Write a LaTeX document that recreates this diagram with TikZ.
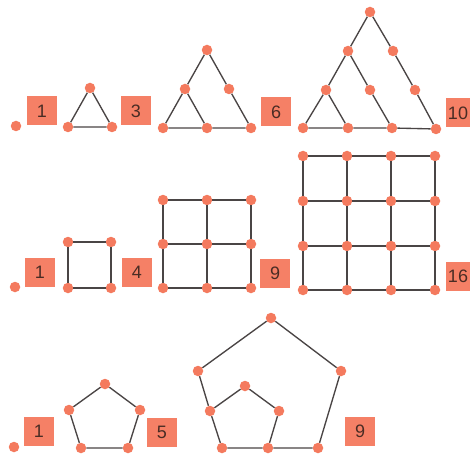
\documentclass[tikz,border=0pt]{standalone}
\usepackage{fontspec}
\setmainfont{Liberation Sans}
\definecolor{dotc}{HTML}{F47A5E}
\definecolor{boxc}{HTML}{F58066}
\definecolor{txtc}{HTML}{4A2C24}
\definecolor{linec}{HTML}{4A4545}
\begin{document}
\begin{tikzpicture}[x=1pt,y=-1pt,
  dot/.style={circle,fill=dotc,inner sep=0pt,minimum size=10.5pt},
  numbox/.style={fill=boxc,minimum width=30pt,minimum height=29pt,inner sep=0pt,
     font=\fontsize{18}{18}\selectfont,text=txtc},
  edge/.style={draw=linec,line width=1.35pt}]
\useasboundingbox (0,0) rectangle (470,454);
\fill[white] (0,0) rectangle (470,454);

% ---------- Row 1: triangles ----------
\node[dot] (d1) at (16,126) {};
\node[numbox] (n1a) at (42,111) {1};
\node[dot] (t3a) at (90,88) {};
\node[dot] (t3b) at (68,127) {};
\node[dot] (t3c) at (112,127) {};
\draw[edge] (t3a) -- (t3b) -- (t3c) -- (t3a);
\node[numbox] (n3) at (136,111) {3};

\node[dot] (t6a) at (207,50) {};
\node[dot] (t6b) at (185,89) {};
\node[dot] (t6c) at (229,89) {};
\node[dot] (t6d) at (163,128) {};
\node[dot] (t6e) at (207,128) {};
\node[dot] (t6f) at (251,128) {};
\draw[edge] (t6a) -- (t6b) -- (t6d) -- (t6e) -- (t6f) -- (t6c) -- (t6a);
\draw[edge] (t6b) -- (t6e);
\node[numbox] (n6) at (276,112) {6};

\node[dot] (ta) at (370,12) {};
\node[dot] (tb) at (348,51) {};
\node[dot] (tc) at (393,51) {};
\node[dot] (td) at (326,90) {};
\node[dot] (te) at (370,90) {};
\node[dot] (tf) at (415,90) {};
\node[dot] (tg) at (303,128) {};
\node[dot] (th) at (348,128) {};
\node[dot] (ti) at (392,128) {};
\node[dot] (tj) at (436,129) {};
\draw[edge] (ta) -- (tb) -- (td) -- (tg) -- (th) -- (ti) -- (tj) -- (tf) -- (tc) -- (ta);
\draw[edge] (tb) -- (te) -- (ti);
\draw[edge] (td) -- (th);
\node[numbox,minimum width=24pt] (n10) at (458,113) {10};

% ---------- Row 2: squares ----------
\node[dot] (d2) at (15,287) {};
\node[numbox] (n1b) at (40,272) {1};
\node[dot] (s1) at (68,242) {};
\node[dot] (s2) at (111,242) {};
\node[dot] (s3) at (111,288) {};
\node[dot] (s4) at (68,288) {};
\draw[edge] (s1) -- (s2) -- (s3) -- (s4) -- (s1);
\node[numbox] (n4) at (137,272) {4};

\foreach \i/\x in {1/163,2/207,3/251}
  \foreach \j/\y in {1/200,2/244,3/288}
    \node[dot] (g\i\j) at (\x,\y) {};
\foreach \j in {1,2,3} {
  \draw[edge] (g1\j) -- (g2\j) -- (g3\j);
  \draw[edge] (g\j1) -- (g\j2) -- (g\j3);
}
\node[numbox] (n9a) at (275,273) {9};

\foreach \i/\x in {1/303,2/347,3/391,4/435}
  \foreach \j/\y in {1/156,2/201,3/246,4/290}
    \node[dot] (h\i\j) at (\x,\y) {};
\foreach \j in {1,2,3,4} {
  \draw[edge] (h1\j) -- (h2\j) -- (h3\j) -- (h4\j);
  \draw[edge] (h\j1) -- (h\j2) -- (h\j3) -- (h\j4);
}
\node[numbox,minimum width=24pt] (n16) at (458,276) {16};

% ---------- Row 3: pentagons ----------
\node[dot] (d3) at (14,447) {};
\node[numbox] (n1c) at (39,431) {1};
\node[dot] (p1) at (105,384) {};
\node[dot] (p2) at (140,410) {};
\node[dot] (p3) at (128,448) {};
\node[dot] (p4) at (81,448) {};
\node[dot] (p5) at (69,410) {};
\draw[edge] (p1) -- (p2) -- (p3) -- (p4) -- (p5) -- (p1);
\node[numbox] (n5) at (162,432) {5};

\node[dot] (q1) at (271,318) {};
\node[dot] (q2) at (341,371) {};
\node[dot] (q3) at (318,448) {};
\node[dot] (q4) at (222,448) {};
\node[dot] (q5) at (198,371) {};
\node[dot] (r1) at (245,386) {};
\node[dot] (r2) at (279,411) {};
\node[dot] (r3) at (268,448) {};
\node[dot] (r5) at (210,411) {};
\draw[edge] (q1) -- (q2) -- (q3) -- (r3) -- (q4) -- (r5) -- (q5) -- (q1);
\draw[edge] (r5) -- (r1) -- (r2) -- (r3);
\node[numbox] (n9b) at (360,431) {9};
\end{tikzpicture}
\end{document}
